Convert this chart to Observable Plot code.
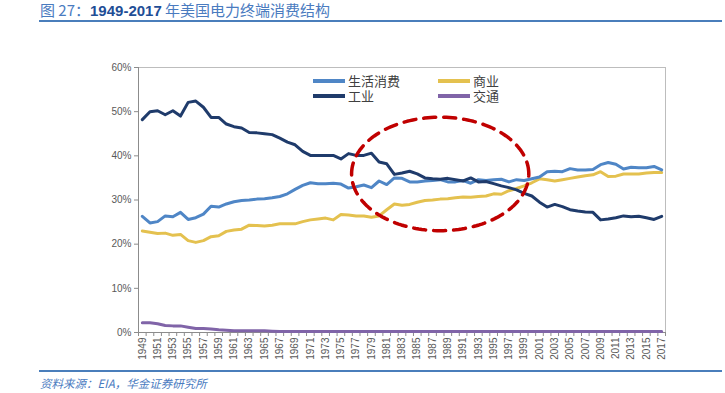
<!DOCTYPE html>
<html>
<head>
<meta charset="utf-8">
<script src="https://cdn.jsdelivr.net/npm/d3@7"></script>
<script src="https://cdn.jsdelivr.net/npm/@observablehq/plot@0.6"></script>
<style>
  html, body { margin: 0; padding: 0; background: #fff; }
  body { width: 725px; height: 393px; position: relative; overflow: hidden; font-family: "Liberation Sans", Arial, sans-serif; }
  .abs { position: absolute; }
  #title { left: 40px; top: 0px; font-size: 15px; color: #4a7bbf; font-family: "Noto Sans CJK SC", sans-serif; white-space: nowrap; line-height: 20px; }
  #title b { color: #1f4e96; font-weight: 700; font-family: "Liberation Sans", Arial, sans-serif; }
  .hline { height: 1.5px; background: #4a7ebb; left: 39px; width: 683px; }
  #chart { left: 0; top: 25px; }
  .leg { font-size: 13px; color: #404040; font-family: "Noto Sans CJK SC", sans-serif; white-space: nowrap; line-height: 13px; height: 13px; }
  .sw { height: 4px; width: 32px; }
  #source { left: 40px; top: 375px; font-size: 11.5px; color: #4a7bbf; font-style: italic; font-family: "Noto Sans CJK SC", sans-serif; white-space: nowrap; }
</style>
</head>
<body>
<div id="title" class="abs">图 27：<b>1949-2017</b> 年美国电力终端消费结构</div>
<div class="abs hline" style="top:20px"></div>
<div id="chart" class="abs"></div>
<div class="abs hline" style="top:370px"></div>
<div id="source" class="abs">资料来源：EIA，华金证券研究所</div>
<script>
// ---- data (percent of end-use electricity consumption) ----
const years = d3.range(1949, 2018);
const seriesNames = ["生活消费", "商业", "工业", "交通"];
const seriesColors = ["#4f86c6", "#e4c14f", "#1f3b6b", "#8064a8"];

const residential = [
  26.3,24.8,25.1,26.4,26.2,27.2,25.6,26.0,26.8,28.6,
  28.4,29.1,29.6,29.9,30.0,30.2,30.3,30.5,30.8,31.4,
  32.4,33.3,33.9,33.7,33.7,33.8,33.6,32.7,33.0,33.4,
  32.8,34.3,33.5,35.0,34.9,34.1,34.1,34.3,34.4,34.6,
  34.1,34.1,34.4,33.8,34.6,34.4,34.6,34.7,34.1,34.6,
  34.4,34.8,35.2,36.4,36.5,36.4,37.1,36.8,36.8,36.9,
  38.0,38.5,38.1,37.0,37.4,37.3,37.3,37.6,36.8
];
const commercial = [
  23.0,22.7,22.4,22.5,22.0,22.2,20.8,20.4,20.8,21.7,
  21.9,22.9,23.2,23.4,24.3,24.2,24.1,24.3,24.6,24.6,
  24.6,25.1,25.5,25.7,25.9,25.5,26.7,26.6,26.4,26.4,
  26.1,26.4,27.8,29.1,28.8,29.0,29.5,29.9,30.0,30.2,
  30.3,30.5,30.7,30.6,30.8,30.9,31.4,31.3,32.1,32.6,
  33.2,33.9,34.8,34.6,34.3,34.6,34.9,35.2,35.5,35.7,
  36.4,35.3,35.4,35.9,35.9,35.9,36.1,36.2,36.2
];
const industrial = [
  48.2,50.0,50.2,49.3,50.2,49.0,52.1,52.4,51.0,48.7,
  48.7,47.2,46.6,46.3,45.3,45.2,45.0,44.8,44.0,43.1,
  42.5,41.0,40.1,40.1,40.1,40.1,39.3,40.5,40.1,40.1,
  40.6,38.6,38.2,35.8,36.1,36.5,35.9,35.0,34.8,34.7,
  34.9,34.6,34.3,35.0,34.1,34.2,33.7,33.2,32.8,32.3,
  31.5,30.9,29.5,28.4,29.0,28.5,27.8,27.5,27.3,27.2,
  25.5,25.7,26.0,26.4,26.2,26.3,26.0,25.6,26.3
];
const transport = [
  2.2,2.2,2.0,1.6,1.5,1.5,1.2,0.9,0.9,0.8,
  0.6,0.5,0.4,0.4,0.4,0.4,0.4,0.3,0.2,0.2,
  0.2,0.2,0.2,0.2,0.2,0.2,0.2,0.2,0.2,0.2,
  0.2,0.2,0.2,0.2,0.2,0.2,0.2,0.2,0.2,0.2,
  0.2,0.2,0.2,0.2,0.2,0.2,0.2,0.2,0.2,0.2,
  0.2,0.2,0.2,0.2,0.2,0.2,0.2,0.2,0.2,0.2,
  0.2,0.2,0.2,0.2,0.2,0.2,0.2,0.2,0.2
];
const yTicks = [0, 10, 20, 30, 40, 50, 60];
const xLabelYears = d3.range(1949, 2018, 2);

// highlight ellipse (data space): center & radii
const ellipseCenter = { year: 1988.0, value: 35.9 };
const ellipseRadius = { years: 11.6, value: 12.85 };

const toRows = (vals) => years.map((y, i) => ({ year: y, value: vals[i] }));
const ellipsePts = d3.range(0, 361, 2).map(a => {
  const t = a * Math.PI / 180;
  return { year: ellipseCenter.year + ellipseRadius.years * Math.cos(t),
           value: ellipseCenter.value + ellipseRadius.value * Math.sin(t) };
});
const boundaries = d3.range(1948.5, 2018, 1);

const lineOpts = (color) => ({ x: "year", y: "value", stroke: color, strokeWidth: 3, strokeLinejoin: "round", strokeLinecap: "round" });

const chart = Plot.plot({
  width: 725,
  height: 340,
  marginTop: 42,
  marginBottom: 33,
  marginLeft: 138,
  marginRight: 60,
  style: { fontFamily: "'Liberation Sans', Arial, sans-serif", fontSize: "10px", color: "#595959", background: "transparent" },
  x: { domain: [1948.5, 2017.5], label: null },
  y: { domain: [0, 60], label: null },
  marks: [
    Plot.frame({ stroke: "#bdbdbd", strokeWidth: 1 }),
    Plot.ruleX([1948.5], { stroke: "#8c8c8c" }),
    Plot.ruleY([0], { stroke: "#8c8c8c" }),
    Plot.axisY({ ticks: yTicks, tickFormat: d => d + "%", tickSize: 4, tickPadding: 3, stroke: "#8c8c8c", fill: "#595959", label: null }),
    Plot.axisX({ ticks: boundaries, tickFormat: () => "", tickSize: 4, stroke: "#8c8c8c", label: null }),
    Plot.axisX({ ticks: xLabelYears, tickFormat: d => String(d), tickSize: 0, tickPadding: 5, tickRotate: -90, fill: "#595959", label: null }),
    Plot.line(toRows(transport), lineOpts(seriesColors[3])),
    Plot.line(toRows(commercial), lineOpts(seriesColors[1])),
    Plot.line(toRows(residential), lineOpts(seriesColors[0])),
    Plot.line(toRows(industrial), lineOpts(seriesColors[2])),
    Plot.line(ellipsePts, { x: "year", y: "value", stroke: "#c00000", strokeWidth: 3.5, strokeDasharray: "12,8", curve: "linear" })
  ]
});
document.getElementById("chart").appendChild(chart);

// legend (inside plot area)
const legendPos = [
  { left: 313, top: 74 }, { left: 438, top: 74 },
  { left: 313, top: 89 }, { left: 438, top: 89 }
];
seriesNames.forEach((name, i) => {
  const p = legendPos[i];
  const sw = document.createElement("div");
  sw.className = "abs sw";
  sw.style.left = p.left + "px";
  sw.style.top = (p.top + 5) + "px";
  sw.style.background = seriesColors[i];
  document.body.appendChild(sw);
  const tx = document.createElement("div");
  tx.className = "abs leg";
  tx.style.left = (p.left + 35) + "px";
  tx.style.top = p.top + "px";
  tx.textContent = name;
  document.body.appendChild(tx);
});
</script>
</body>
</html>
